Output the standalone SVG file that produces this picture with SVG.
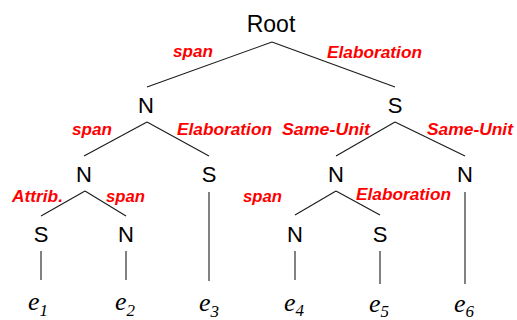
<svg xmlns="http://www.w3.org/2000/svg" width="517" height="320" viewBox="0 0 517 320">
<style>
.nd{font-family:"Liberation Sans",Arial,sans-serif;font-size:22px;fill:#000;text-anchor:middle}
.rl{font-family:"Liberation Sans",Arial,sans-serif;font-size:16.5px;font-weight:bold;font-style:italic;fill:#ff0000}
.lf{font-family:"Liberation Serif","Times New Roman",serif;font-style:italic;font-size:26px;fill:#000}
.sb{font-size:17px}
.ed line{stroke:#1a1a1a;stroke-width:1.1}
</style>
<rect width="517" height="320" fill="#fff"/>
<g id="connectors" class="ed">
<line x1="272" y1="42" x2="147" y2="87"/>
<line x1="272" y1="42" x2="395" y2="87"/>
<line x1="147" y1="122" x2="84" y2="156"/>
<line x1="147" y1="122" x2="209" y2="156"/>
<line x1="395" y1="122" x2="336" y2="156"/>
<line x1="395" y1="122" x2="465" y2="156"/>
<line x1="85" y1="191" x2="41" y2="216"/>
<line x1="85" y1="191" x2="126" y2="216"/>
<line x1="336" y1="191" x2="295" y2="215"/>
<line x1="336" y1="191" x2="380" y2="215"/>
<line x1="209" y1="192" x2="209" y2="281"/>
<line x1="465" y1="192" x2="465" y2="284"/>
<line x1="41" y1="251" x2="41" y2="280"/>
<line x1="126" y1="251" x2="126" y2="280"/>
<line x1="295" y1="251" x2="295" y2="280"/>
<line x1="380" y1="251" x2="380" y2="284"/>
</g>
<g id="labels">
<text class="rl" x="173" y="57" textLength="40" lengthAdjust="spacingAndGlyphs">span</text>
<text class="rl" x="327" y="58" textLength="95" lengthAdjust="spacingAndGlyphs">Elaboration</text>
<text class="rl" x="72" y="135" textLength="40" lengthAdjust="spacingAndGlyphs">span</text>
<text class="rl" x="177" y="135" textLength="95" lengthAdjust="spacingAndGlyphs">Elaboration</text>
<text class="rl" x="282" y="135" textLength="88" lengthAdjust="spacingAndGlyphs">Same-Unit</text>
<text class="rl" x="427" y="135" textLength="86" lengthAdjust="spacingAndGlyphs">Same-Unit</text>
<text class="rl" x="12" y="202" textLength="51" lengthAdjust="spacingAndGlyphs">Attrib.</text>
<text class="rl" x="106" y="202" textLength="39" lengthAdjust="spacingAndGlyphs">span</text>
<text class="rl" x="243" y="202" textLength="39" lengthAdjust="spacingAndGlyphs">span</text>
<text class="rl" x="356" y="200" textLength="95" lengthAdjust="spacingAndGlyphs">Elaboration</text>
</g>
<g id="root"><text class="nd" x="271" y="32" style="font-size:23px">Root</text></g>
<g id="n1"><text class="nd" x="146" y="113">N</text></g>
<g id="s1"><text class="nd" x="395" y="113">S</text></g>
<g id="n11"><text class="nd" x="84" y="182">N</text></g>
<g id="s12"><text class="nd" x="209" y="182">S</text></g>
<g id="n21"><text class="nd" x="336" y="182">N</text></g>
<g id="n22"><text class="nd" x="465" y="182">N</text></g>
<g id="s111"><text class="nd" x="41" y="242">S</text></g>
<g id="n112"><text class="nd" x="126" y="242">N</text></g>
<g id="n211"><text class="nd" x="295" y="242">N</text></g>
<g id="s212"><text class="nd" x="380" y="242">S</text></g>
<g id="e1"><text class="lf" x="28" y="310">e<tspan class="sb" dy="6">1</tspan></text></g>
<g id="e2"><text class="lf" x="115" y="310">e<tspan class="sb" dy="6">2</tspan></text></g>
<g id="e3"><text class="lf" x="199" y="311">e<tspan class="sb" dy="6">3</tspan></text></g>
<g id="e4"><text class="lf" x="284" y="311">e<tspan class="sb" dy="5">4</tspan></text></g>
<g id="e5"><text class="lf" x="369" y="312">e<tspan class="sb" dy="5">5</tspan></text></g>
<g id="e6"><text class="lf" x="454" y="312">e<tspan class="sb" dy="5">6</tspan></text></g>
</svg>
